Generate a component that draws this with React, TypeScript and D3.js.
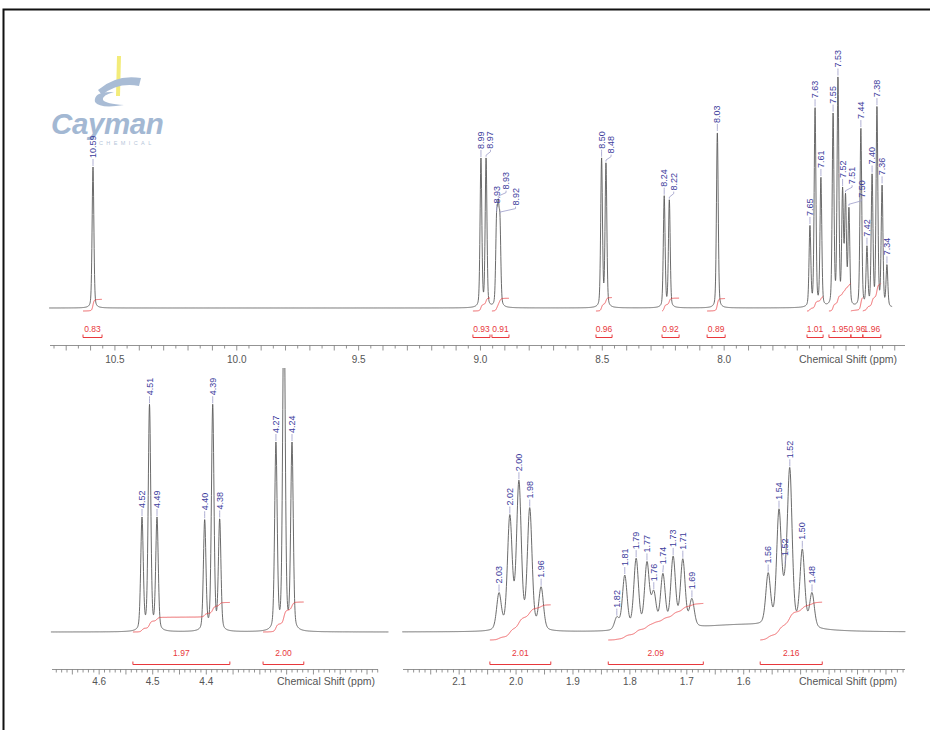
import React, { useRef, useEffect } from "react";
import * as d3 from "d3";

type Peak = [number, number, string | null];
type Broad = [number, number, number];
type Integral = [number, number, number];

// aromatic region: ppm, intensity, label
const topPeaks: Peak[] = [
  [10.59, 141, "10.59"],
  [8.998, 148, "8.99"],
  [8.977, 148, "8.97"],
  [8.934, 78, "8.93"],
  [8.927, 80, "8.93"],
  [8.92, 76, "8.92"],
  [8.503, 148, "8.50"],
  [8.485, 143, "8.48"],
  [8.246, 111, "8.24"],
  [8.225, 107, "8.22"],
  [8.028, 176, "8.03"],
  [7.648, 80, "7.65"],
  [7.627, 198, "7.63"],
  [7.603, 128, "7.61"],
  [7.553, 191, "7.55"],
  [7.533, 226, "7.53"],
  [7.514, 112, "7.52"],
  [7.502, 106, "7.51"],
  [7.488, 96, "7.50"],
  [7.439, 178, "7.44"],
  [7.414, 58, "7.42"],
  [7.393, 130, "7.40"],
  [7.373, 198, "7.38"],
  [7.352, 120, "7.36"],
  [7.332, 41, "7.34"],
];
const topIntegrals: Integral[] = [
  [10.631, 10.553, 0.83],
  [9.031, 8.961, 0.93],
  [8.953, 8.883, 0.91],
  [8.526, 8.46, 0.96],
  [8.255, 8.185, 0.92],
  [8.07, 7.996, 0.89],
  [7.66, 7.594, 1.01],
  [7.57, 7.48, 1.95],
  [7.48, 7.431, 0.96],
  [7.431, 7.357, 1.96],
];
const topTicks = ["10.5", "10.0", "9.5", "9.0", "8.5", "8.0"];

// 4.2 - 4.6 ppm expansion
const leftPeaks: Peak[] = [
  [4.52, 112, "4.52"],
  [4.506, 225, "4.51"],
  [4.492, 112, "4.49"],
  [4.403, 110, "4.40"],
  [4.388, 225, "4.39"],
  [4.375, 110, "4.38"],
  [4.27, 186, "4.27"],
  [4.255, 340, null],
  [4.24, 186, "4.24"],
];
const leftIntegrals: Integral[] = [
  [4.537, 4.356, 1.97],
  [4.294, 4.218, 2.0],
];
const leftTicks = ["4.6", "4.5", "4.4"];

// 1.4 - 2.1 ppm expansion
const rightPeaks: Peak[] = [
  [2.03, 36, "2.03"],
  [2.011, 112, "2.02"],
  [1.995, 146, "2.00"],
  [1.976, 120, "1.98"],
  [1.956, 42, "1.96"],
  [1.823, 12, "1.82"],
  [1.809, 54, "1.81"],
  [1.789, 70, "1.79"],
  [1.77, 65, "1.77"],
  [1.758, 34, "1.76"],
  [1.742, 53, "1.74"],
  [1.724, 70, "1.73"],
  [1.707, 67, "1.71"],
  [1.691, 27, "1.69"],
  [1.557, 50, "1.56"],
  [1.538, 112, "1.54"],
  [1.527, 24, "1.52"],
  [1.519, 152, "1.52"],
  [1.497, 76, "1.50"],
  [1.48, 34, "1.48"],
];
const rightBroad: Broad[] = [[1.6, 7, 0.2]];
const rightIntegrals: Integral[] = [
  [2.046, 1.939, 2.01],
  [1.838, 1.671, 2.09],
  [1.571, 1.462, 2.16],
];
const rightTicks = ["2.1", "2.0", "1.9", "1.8", "1.7", "1.6"];

const FONT = "'Liberation Sans', Arial, sans-serif";
const BLUE = "#3c3c9c";
const RED = "#e8383c";

const shape = (x: number, x0: number, fwhm: number) => {
  const u = (x - x0) / (fwhm / 2);
  return 0.3 / (1 + u * u) + 0.7 * Math.exp(-Math.LN2 * u * u);
};

const App = () => {
  const svgRef = useRef<SVGSVGElement>(null);

  useEffect(() => {
    const svg = d3.select(svgRef.current);
    svg.selectAll("*").remove();

    svg.append("rect").attr("width", 930).attr("height", 730).attr("fill", "#fff");

    // frame
    svg
      .append("rect")
      .attr("x", 3.5)
      .attr("y", 9.5)
      .attr("width", 960)
      .attr("height", 760)
      .attr("fill", "none")
      .attr("stroke", "#111")
      .attr("stroke-width", 2);

    // logo
    const logo = svg.append("g");
    logo
      .append("path")
      .attr("d", "M117,56 L121,56 L120,96 L116,96 Z")
      .attr("fill", "#f3ec7a");
    logo
      .append("path")
      .attr("d", "M98,90 Q116,74 141,78 L139,86 Q118,82 102,95 Z")
      .attr("fill", "#a9bcd5");
    logo
      .append("path")
      .attr("d", "M114,92 Q93,91 95,102 Q100,109 124,105 Q106,104 103,100 Q102,95 114,92 Z")
      .attr("fill", "#a9bcd5");
    logo
      .append("text")
      .attr("x", 51)
      .attr("y", 133.5)
      .attr("font-family", FONT)
      .attr("font-weight", "bold")
      .attr("font-style", "italic")
      .attr("font-size", 29.5)
      .attr("letter-spacing", -0.4)
      .attr("fill", "#a3b8d3")
      .text("Cayman");
    logo
      .append("text")
      .attr("x", 99)
      .attr("y", 145)
      .attr("font-family", FONT)
      .attr("font-size", 5.5)
      .attr("letter-spacing", 3.4)
      .attr("fill", "#b6c6da")
      .text("CHEMICAL");

    const panels = [
      {
        id: "top",
        peaks: topPeaks,
        broad: [] as Broad[],
        fwhm: 0.0085,
        span: [10.77, 7.31],
        step: 0.0008,
        x: d3.scaleLinear().domain([10.59, 7.34]).range([93, 885]),
        y: d3.scaleLinear().domain([0, 250]).range([308, 58]),
        clip: [48, 20, 862, 320],
        integrals: topIntegrals,
        intOffset: 3,
        intScale: 14,
        intLabelY: 332,
        bracketY: 337.5,
        axis: [50, 905],
        axisY: 345.5,
        tickLabelY: 363,
        ticks: topTicks,
        minor: 0.05,
        major: 0.1,
        title: 897,
      },
      {
        id: "left",
        peaks: leftPeaks,
        broad: [] as Broad[],
        fwhm: 0.0056,
        span: [4.69, 4.06],
        step: 0.0004,
        x: d3.scaleLinear().domain([4.52, 4.24]).range([142, 292]),
        y: d3.scaleLinear().domain([0, 300]).range([632, 332]),
        clip: [48, 368, 344, 280],
        integrals: leftIntegrals,
        intOffset: 0,
        intScale: 15,
        intLabelY: 656,
        bracketY: 664.5,
        axis: [52, 378],
        axisY: 669.5,
        tickLabelY: 685,
        ticks: leftTicks,
        minor: 0.01,
        major: 0.05,
        title: 375,
      },
      {
        id: "right",
        peaks: rightPeaks,
        broad: rightBroad,
        fwhm: 0.0098,
        span: [2.2, 1.316],
        step: 0.0005,
        x: d3.scaleLinear().domain([2.03, 1.48]).range([499, 812]),
        y: d3.scaleLinear().domain([0, 300]).range([632, 332]),
        clip: [400, 368, 510, 280],
        integrals: rightIntegrals,
        intOffset: 8,
        intScale: 17.5,
        intLabelY: 656,
        bracketY: 664.5,
        axis: [403, 905],
        axisY: 669.5,
        tickLabelY: 685,
        ticks: rightTicks,
        minor: 0.01,
        major: 0.05,
        title: 897,
      },
    ];

    panels.forEach((p) => {
      const g = svg.append("g");
      const signal = (ppm: number) => {
        let s = 0;
        p.peaks.forEach(([c, h]) => (s += h * shape(ppm, c, p.fwhm)));
        p.broad.forEach(([c, h, w]) => (s += h * shape(ppm, c, w)));
        return s;
      };

      g.append("clipPath")
        .attr("id", `clip-${p.id}`)
        .append("rect")
        .attr("x", p.clip[0])
        .attr("y", p.clip[1])
        .attr("width", p.clip[2])
        .attr("height", p.clip[3]);

      // spectrum trace
      const pts = d3.range(p.span[0], p.span[1], -p.step);
      const line = d3
        .line<number>()
        .x((d) => p.x(d))
        .y((d) => p.y(signal(d)));
      g.append("path")
        .attr("d", line(pts))
        .attr("clip-path", `url(#clip-${p.id})`)
        .attr("fill", "none")
        .attr("stroke", "#5a5a5a")
        .attr("stroke-width", 0.9);

      // integral curves
      const base = p.y(0);
      p.integrals.forEach(([a, b, v]) => {
        const ip = d3.range(a, b, -p.step / 2);
        let cum = 0;
        const cs = ip.map((d) => (cum += signal(d)));
        const data = ip.map((d, i) => [
          p.x(d),
          base + p.intOffset - (cs[i] / cum) * v * p.intScale,
        ]) as [number, number][];
        g.append("path")
          .attr("d", d3.line()(data))
          .attr("fill", "none")
          .attr("stroke", RED)
          .attr("stroke-opacity", 0.85)
          .attr("stroke-width", 0.9);

        // bracket + value
        const x1 = p.x(a);
        const x2 = p.x(b);
        g.append("path")
          .attr("d", `M${x1},${p.bracketY - 3}V${p.bracketY}H${x2}V${p.bracketY - 3}`)
          .attr("fill", "none")
          .attr("stroke", RED)
          .attr("stroke-width", 1);
        g.append("text")
          .attr("x", (x1 + x2) / 2)
          .attr("y", p.intLabelY)
          .attr("text-anchor", "middle")
          .attr("font-family", FONT)
          .attr("font-size", 8.5)
          .attr("fill", RED)
          .text(v.toFixed(2));
      });

      // peak labels: above the peak, pushed right where they collide
      const placed: { lx: number; yt: number; yb: number }[] = [];
      p.peaks
        .filter((d) => d[2])
        .map((d) => ({ px: p.x(d[0]), top: p.y(signal(d[0])), label: d[2] as string }))
        .sort((a, b) => a.px - b.px)
        .forEach((d) => {
          const yb = d.top - 8;
          const yt = yb - 23;
          let lx = d.px;
          placed.forEach((q) => {
            if (yt < q.yb && yb > q.yt && lx < q.lx + 9.5) lx = q.lx + 9.5;
          });
          placed.push({ lx, yt, yb });
          g.append("path")
            .attr("d", `M${d.px},${d.top - 1}V${d.top - 2.5}L${lx},${d.top - 6}V${yb}`)
            .attr("fill", "none")
            .attr("stroke", "#9a9ac8")
            .attr("stroke-width", 0.8);
          g.append("text")
            .attr("transform", `translate(${lx + 3},${yb - 1}) rotate(-90)`)
            .attr("font-family", FONT)
            .attr("font-size", 9)
            .attr("fill", BLUE)
            .text(d.label);
        });

      // axis
      const ax = g.append("g").attr("stroke", "#777").attr("stroke-width", 0.8);
      ax.append("line")
        .attr("x1", p.axis[0])
        .attr("x2", p.axis[1])
        .attr("y1", p.axisY)
        .attr("y2", p.axisY);
      const lo = p.x.invert(p.axis[1]);
      const hi = p.x.invert(p.axis[0]);
      const n0 = Math.ceil(lo / p.minor - 1e-6);
      const n1 = Math.floor(hi / p.minor + 1e-6);
      for (let k = n0; k <= n1; k++) {
        const v = k * p.minor;
        const isMajor = Math.abs(v / p.major - Math.round(v / p.major)) < 1e-6;
        ax.append("line")
          .attr("x1", p.x(v))
          .attr("x2", p.x(v))
          .attr("y1", p.axisY)
          .attr("y2", p.axisY + (isMajor ? 5 : 3));
      }
      p.ticks.forEach((t) => {
        g.append("text")
          .attr("x", p.x(+t))
          .attr("y", p.tickLabelY)
          .attr("text-anchor", "middle")
          .attr("font-family", FONT)
          .attr("font-size", 10)
          .attr("fill", "#555")
          .text(t);
      });
      g.append("text")
        .attr("x", p.title)
        .attr("y", p.tickLabelY)
        .attr("text-anchor", "end")
        .attr("font-family", FONT)
        .attr("font-size", 10.5)
        .attr("fill", "#555")
        .text("Chemical Shift (ppm)");
    });
  }, []);

  return (
    <div style={{ position: "absolute", left: 0, top: 0 }}>
      <svg ref={svgRef} width={930} height={730} style={{ display: "block" }} />
    </div>
  );
};

export default App;
